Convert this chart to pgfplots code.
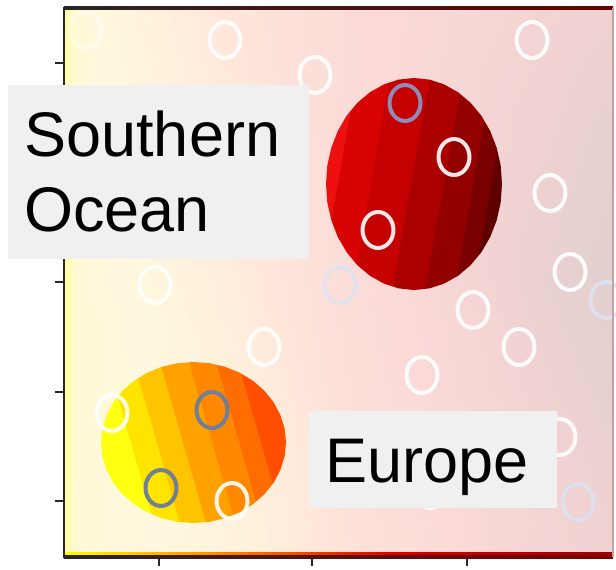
\documentclass[border=0pt]{standalone}
\usepackage{pgfplots}
\pgfplotsset{compat=1.18}
\usepackage{fontspec}
\setmainfont{Liberation Sans}

\definecolor{oc1}{HTML}{FFFF10}
\definecolor{oc2}{HTML}{FFE400}
\definecolor{oc3}{HTML}{FFC400}
\definecolor{oc4}{HTML}{FFA200}
\definecolor{oc5}{HTML}{FF8800}
\definecolor{oc6}{HTML}{FF6C00}
\definecolor{oc7}{HTML}{FF4E00}
\definecolor{rc1}{HTML}{EC1010}
\definecolor{rc2}{HTML}{D80404}
\definecolor{rc3}{HTML}{C40000}
\definecolor{rc4}{HTML}{AA0000}
\definecolor{rc5}{HTML}{920000}
\definecolor{rc6}{HTML}{7A0000}
\definecolor{rc7}{HTML}{5E0000}
\definecolor{boxgrey}{HTML}{F0F0F0}
\definecolor{paleblue}{HTML}{DCE3F2}
\definecolor{lavender}{HTML}{8C8CB8}
\definecolor{slate}{HTML}{6F7F98}

\pgfdeclarehorizontalshading{orangebands}{100bp}{
 color(0bp)=(oc1); color(33bp)=(oc1);
 color(33.01bp)=(oc2); color(40bp)=(oc2);
 color(40.01bp)=(oc3); color(47bp)=(oc3);
 color(47.01bp)=(oc4); color(55bp)=(oc4);
 color(55.01bp)=(oc5); color(62bp)=(oc5);
 color(62.01bp)=(oc6); color(68bp)=(oc6);
 color(68.01bp)=(oc7); color(100bp)=(oc7)}
\pgfdeclarehorizontalshading{redbands}{100bp}{
 color(0bp)=(rc1); color(29bp)=(rc1);
 color(29.01bp)=(rc2); color(38bp)=(rc2);
 color(38.01bp)=(rc3); color(49bp)=(rc3);
 color(49.01bp)=(rc4); color(58bp)=(rc4);
 color(58.01bp)=(rc5); color(66bp)=(rc5);
 color(66.01bp)=(rc6); color(71bp)=(rc6);
 color(71.01bp)=(rc7); color(100bp)=(rc7)}
\pgfdeclarehorizontalshading{bottomstrip}{100bp}{
 color(0bp)=(yellow); color(25bp)=(yellow); color(40bp)=(orange);
 color(55bp)=(red!85!black); color(75bp)=(red!60!black); color(100bp)=(red!60!black)}

\begin{document}
\begin{tikzpicture}
\useasboundingbox (-32pt,-6pt) rectangle (276pt,278.5pt);
\clip (-32pt,-6pt) rectangle (276pt,278.5pt);
\begin{axis}[
  at={(0pt,0pt)}, anchor=south west,
  scale only axis, width=274.5pt, height=274.5pt,
  xmin=64, xmax=613, ymin=12, ymax=561,
  axis line style={draw=none},
  xtick={159,312,467}, ytick={68,177,287,396.5,506},
  xticklabels={}, yticklabels={},
  xtick pos=bottom, ytick pos=left,
  tick align=outside, major tick length=4.5pt,
  tick style={black!85, line width=0.9pt},
  colormap={bg}{rgb255(0)=(255,255,150) rgb255(1)=(255,248,222) rgb255(2)=(255,232,218) rgb255(3)=(251,218,216) rgb255(4)=(240,210,210) rgb255(5)=(222,206,206)},
  point meta min=0, point meta max=5,
]
\addplot[surf, shader=interp, mesh/cols=8, point meta=explicit] table[x=x, y=y, meta=c] {
x y c
64 12 0.2
76 12 0.9
150 12 1.0
250 12 1.4
350 12 2.4
450 12 3.0
540 12 3.6
613 12 4.0
64 150 0.1
76 150 0.9
150 150 1.0
250 150 1.5
350 150 2.6
450 150 3.2
540 150 3.9
613 150 4.4
64 290 0.1
76 290 0.9
150 290 1.1
250 290 1.9
350 290 2.8
450 290 3.4
540 290 4.3
613 290 4.8
64 430 0.1
76 430 0.9
150 430 1.2
250 430 2.1
350 430 2.9
450 430 3.4
540 430 4.0
613 430 4.5
64 561 0.2
76 561 0.9
150 561 1.4
250 561 2.3
350 561 2.9
450 561 3.3
540 561 3.7
613 561 4.0
};

% Europe blob
\addplot[draw=none, shade, shading=orangebands, shading angle=16] coordinates {
(286.0,126.5) (284.6,140.5) (280.4,154.0) (273.6,166.8) (264.4,178.3) (253.0,188.2)
(239.8,196.2) (225.1,202.2) (209.6,205.8) (193.5,207.0) (177.4,205.8) (161.9,202.2)
(147.2,196.2) (134.0,188.2) (122.6,178.3) (113.4,166.8) (106.6,154.0) (102.4,140.5)
(101.0,126.5) (102.4,112.5) (106.6,99.0) (113.4,86.2) (122.6,74.7) (134.0,64.8)
(147.2,56.8) (161.9,50.8) (177.4,47.2) (193.5,46.0) (209.6,47.2) (225.1,50.8)
(239.8,56.8) (253.0,64.8) (264.4,74.7) (273.6,86.2) (280.4,99.0) (284.6,112.5)
} -- cycle;

% Southern Ocean blob
\addplot[draw=none, shade, shading=redbands, shading angle=-10] coordinates {
(502,385) (500.7,403.4) (496.7,421.3) (490.2,438) (481.4,453.2) (470.6,466.2)
(458,476.8) (444.1,484.6) (429.3,489.4) (414,491) (398.7,489.4) (383.9,484.6)
(370,476.8) (357.4,466.2) (346.6,453.2) (337.8,438) (331.3,421.3) (327.3,403.4)
(326,385) (327.3,366.6) (331.3,348.7) (337.8,332) (346.6,316.8) (357.4,303.8)
(370,293.2) (383.9,285.4) (398.7,280.6) (414,279) (429.3,280.6) (444.1,285.4)
(458,293.2) (470.6,303.8) (481.4,316.8) (490.2,332) (496.7,348.7) (500.7,366.6)
} -- cycle;

% white rings
\addplot[only marks, mark=o, mark size=9pt,
  mark options={xscale=0.86, line width=2pt, draw=white, draw opacity=0.9}] coordinates {
(225,529) (315,494) (532,529) (454,412) (378,339) (550,376) (570,297)
(155,284) (473,259) (519,222) (264,222) (422,194) (112,156) (232,68)
(560,132) (430,79)
};
% faint ring
\addplot[only marks, mark=o, mark size=9pt,
  mark options={xscale=0.86, line width=2pt, draw=white, draw opacity=0.45}] coordinates {
(86,539)
};
% pale blue rings
\addplot[only marks, mark=o, mark size=9pt,
  mark options={xscale=0.86, line width=2pt, draw=paleblue, draw opacity=0.85}] coordinates {
(606,269) (340,284) (578,67)
};
% lavender ring
\addplot[only marks, mark=o, mark size=9pt,
  mark options={xscale=0.86, line width=2pt, draw=lavender}] coordinates {
(405,466)
};
% slate rings
\addplot[only marks, mark=o, mark size=9pt,
  mark options={xscale=0.86, line width=2pt, draw=slate}] coordinates {
(212,159) (161,81)
};
\end{axis}

% frame
\shade[shading=bottomstrip] (0pt,0.6pt) rectangle (274.5pt,2.2pt);
\shade[left color=black!85, right color=red!50!black] (0pt,-0.7pt) rectangle (274.5pt,0.7pt);
\shade[left color=black!85, right color=red!40!black] (0pt,273.8pt) rectangle (274.5pt,275.2pt);
\fill[black!85] (-0.7pt,-0.7pt) rectangle (0.7pt,275.2pt);
\fill[red!20!gray!60] (274.2pt,0pt) rectangle (274.8pt,274.5pt);

% labels
\fill[boxgrey] (-28pt,149pt) rectangle (122.5pt,236pt);
\node[anchor=base west, inner sep=0pt, font=\fontsize{31.5}{36}\selectfont] at (-20pt,200.5pt) {Southern};
\node[anchor=base west, inner sep=0pt, font=\fontsize{31.5}{36}\selectfont] at (-20pt,163pt) {Ocean};
\fill[boxgrey] (122.5pt,24.5pt) rectangle (246.5pt,73pt);
\node[anchor=base west, inner sep=0pt, font=\fontsize{31.5}{36}\selectfont] at (130.5pt,37.5pt) {Europe};
\end{tikzpicture}
\end{document}
